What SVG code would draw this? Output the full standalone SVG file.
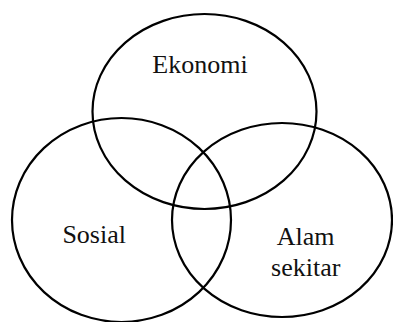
<svg xmlns="http://www.w3.org/2000/svg" width="393" height="322" viewBox="0 0 393 322">
<style>
.c{fill:none;stroke:#000;stroke-width:2.2}
.t{font-family:"Liberation Serif","Times New Roman",serif;font-size:26px;fill:#111;text-anchor:middle}
</style>
<rect width="393" height="322" fill="#fff"/>
<g id="ekonomi">
<ellipse class="c" cx="204.5" cy="111.5" rx="112" ry="97.5"/>
<text class="t" x="200" y="72.5">Ekonomi</text>
</g>
<g id="sosial">
<ellipse class="c" cx="121.5" cy="220" rx="109.5" ry="102"/>
<text class="t" x="94.2" y="243.3">Sosial</text>
</g>
<g id="alam">
<ellipse class="c" cx="282" cy="220" rx="110" ry="97"/>
<text class="t" x="305.7" y="245">Alam</text>
<text class="t" x="305.7" y="275.7">sekitar</text>
</g>
<g id="connectors"/>
</svg>
